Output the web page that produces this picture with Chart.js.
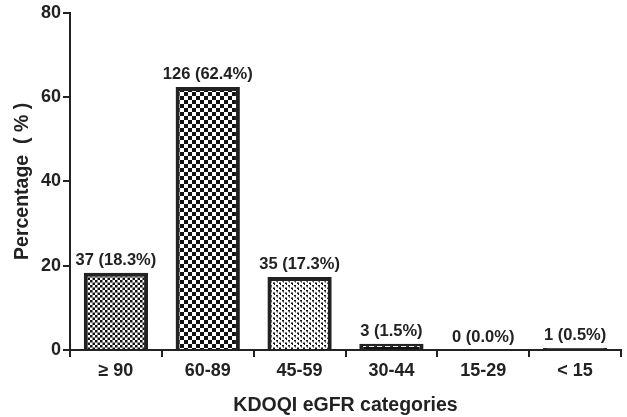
<!DOCTYPE html>
<html>
<head>
<meta charset="utf-8">
<script src="https://cdn.jsdelivr.net/npm/chart.js@4/dist/chart.umd.min.js"></script>
<style>
  html, body { margin: 0; padding: 0; background: #fff; }
  #wrap { width: 627px; height: 417px; }
</style>
</head>
<body>
<div id="wrap"><canvas id="myBarChart"></canvas></div>
<script>
// Dữ liệu của biểu đồ
const categories = ['\u2265 90', '60-89', '45-59', '30-44', '15-29', '< 15'];
const percentValues = [18.3, 62.4, 17.3, 1.5, 0.0, 0.5];
const countValues = [37, 126, 35, 3, 0, 1];
const yTicks = [0, 20, 40, 60, 80];

const FONT = "'Liberation Sans', Arial, sans-serif";

// Tạo pattern cho từng cột
function makePattern(kind) {
    const c = document.createElement('canvas');
    const g = c.getContext('2d');
    if (kind === 'fineChecker') {
        c.width = 5; c.height = 5;
        g.fillStyle = '#fff'; g.fillRect(0, 0, 5, 5);
        g.fillStyle = '#111';
        g.fillRect(0, 0, 2.5, 2.5); g.fillRect(2.5, 2.5, 2.5, 2.5);
    } else if (kind === 'checker') {
        c.width = 8; c.height = 8;
        g.fillStyle = '#111'; g.fillRect(0, 0, 8, 8);
        g.fillStyle = '#fff';
        g.fillRect(0, 0, 4, 4); g.fillRect(4, 4, 4, 4);
    } else if (kind === 'dots') {
        c.width = 6; c.height = 5;
        g.fillStyle = '#fff'; g.fillRect(0, 0, 6, 5);
        g.fillStyle = '#111';
        g.fillRect(0, 0, 2, 1.5); g.fillRect(1, 1.5, 1, 1);
        g.fillRect(3, 2.5, 2, 1.5); g.fillRect(4, 4, 1, 1);
    } else if (kind === 'dashes') {
        c.width = 8; c.height = 4;
        g.fillStyle = '#111'; g.fillRect(0, 0, 8, 4);
        g.fillStyle = '#fff';
        g.fillRect(1, 1, 5, 2);
    } else {
        c.width = 2; c.height = 2;
        g.fillStyle = '#111'; g.fillRect(0, 0, 2, 2);
    }
    return g.createPattern(c, 'repeat');
}

const patterns = [
    makePattern('fineChecker'),
    makePattern('checker'),
    makePattern('dots'),
    makePattern('dashes'),
    makePattern('solid'),
    makePattern('solid')
];

// Plugin vẽ nhãn trên mỗi cột
const barLabels = {
    id: 'barLabels',
    afterDatasetsDraw(chart) {
        const ctx = chart.ctx;
        const meta = chart.getDatasetMeta(0);
        ctx.save();
        ctx.font = 'bold 16.5px ' + FONT;
        ctx.fillStyle = '#222';
        ctx.textAlign = 'center';
        ctx.textBaseline = 'bottom';
        meta.data.forEach((bar, i) => {
            const text = countValues[i] + ' (' + percentValues[i].toFixed(1) + '%)';
            ctx.fillText(text, bar.x, bar.y - 4);
        });
        ctx.restore();
    }
};

const ctx = document.getElementById('myBarChart').getContext('2d');
new Chart(ctx, {
    type: 'bar',
    data: {
        labels: categories,
        datasets: [{
            data: percentValues,
            backgroundColor: patterns,
            borderColor: '#222',
            borderWidth: percentValues.map(v => v > 0 ? 4 : 0),
            borderSkipped: 'bottom',
            barPercentage: 0.7,
            categoryPercentage: 1.0
        }]
    },
    options: {
        responsive: true,
        maintainAspectRatio: false,
        animation: false,
        layout: { padding: { top: 8, right: 6, left: 11 } },
        plugins: {
            legend: { display: false },
            tooltip: { enabled: false }
        },
        scales: {
            x: {
                grid: { display: true, drawOnChartArea: false, drawTicks: true, tickLength: 7, color: '#222', lineWidth: 2 },
                border: { display: true, color: '#222', width: 2 },
                ticks: { color: '#222', font: { family: FONT, size: 18, weight: 'bold' }, padding: 3 },
                title: {
                    display: true,
                    text: 'KDOQI eGFR categories',
                    color: '#222',
                    font: { family: FONT, size: 19.5, weight: 'bold' },
                    padding: { top: 2, bottom: 0 }
                },
                afterFit(scale) { scale.height = 67; }
            },
            y: {
                min: 0,
                max: 80,
                afterBuildTicks(scale) { scale.ticks = yTicks.map(v => ({ value: v })); },
                grid: { display: true, drawOnChartArea: false, drawTicks: true, tickLength: 7, color: '#222', lineWidth: 2 },
                border: { display: true, color: '#222', width: 2 },
                ticks: { color: '#222', font: { family: FONT, size: 18, weight: 'bold' }, padding: 2 },
                title: {
                    display: true,
                    text: 'Percentage  ( % )',
                    color: '#222',
                    font: { family: FONT, size: 19.5, weight: 'bold' },
                    padding: { top: 0, bottom: 2 }
                },
                afterFit(scale) { scale.width = 59; }
            }
        }
    },
    plugins: [barLabels]
});
</script>
</body>
</html>
